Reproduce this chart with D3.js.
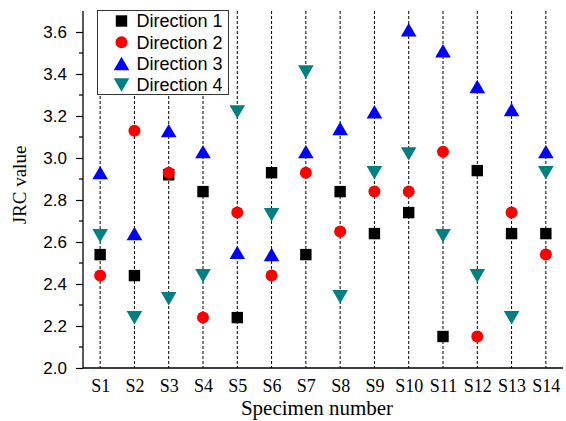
<!DOCTYPE html>
<html>
<head>
<meta charset="utf-8">
<script src="https://cdn.jsdelivr.net/npm/d3@7"></script>
<style>
  body { margin: 0; background: #fff; }
  svg { display: block; }
</style>
</head>
<body>
<div id="chart"></div>
<script>
const specimens = ["S1","S2","S3","S4","S5","S6","S7","S8","S9","S10","S11","S12","S13","S14"]
const dir1 = [2.54, 2.44, 2.92, 2.84, 2.24, 2.93, 2.54, 2.84, 2.64, 2.74, 2.15, 2.94, 2.64, 2.64]
const dir2 = [2.44, 3.13, 2.93, 2.24, 2.74, 2.44, 2.93, 2.65, 2.84, 2.84, 3.03, 2.15, 2.74, 2.54]
const dir3 = [2.93, 2.64, 3.13, 3.03, 2.55, 2.54, 3.03, 3.14, 3.22, 3.61, 3.51, 3.34, 3.23, 3.03]
const dir4 = [2.63, 2.24, 2.33, 2.44, 3.22, 2.73, 3.41, 2.34, 2.93, 3.02, 2.63, 2.44, 2.24, 2.93]
const seriesNames = ["Direction 1", "Direction 2", "Direction 3", "Direction 4"]
const yTicks = [2.0, 2.2, 2.4, 2.6, 2.8, 3.0, 3.2, 3.4, 3.6]
const yMinorTicks = [2.1, 2.3, 2.5, 2.7, 2.9, 3.1, 3.3, 3.5]

const width = 566, height = 421
const margin = {top: 11, right: 3, bottom: 53, left: 83}

const series = [
  {name: seriesNames[0], values: dir1, color: "#000000", shape: "square"},
  {name: seriesNames[1], values: dir2, color: "#ff0000", shape: "circle"},
  {name: seriesNames[2], values: dir3, color: "#0000ff", shape: "up"},
  {name: seriesNames[3], values: dir4, color: "#008080", shape: "down"}
]

const svg = d3.select("#chart").append("svg")
  .attr("width", width)
  .attr("height", height)

const x = d3.scalePoint()
  .domain(specimens)
  .range([margin.left, width - margin.right])
  .padding(0.5)

const y = d3.scaleLinear()
  .domain([2.0, 3.7])
  .range([height - margin.bottom, margin.top])

// marker path, centred on 0,0
function marker(shape) {
  if (shape === "square") return "M-5.7,-5.7H5.7V5.7H-5.7Z"
  if (shape === "circle") return d3.symbol(d3.symbolCircle, Math.PI * 6 * 6)()
  if (shape === "up") return "M0,-6.8L7.8,6.6L-7.8,6.6Z"
  return "M0,6.8L7.8,-6.6L-7.8,-6.6Z"
}

// dashed guide lines
svg.append("g")
  .selectAll("line")
  .data(specimens)
  .join("line")
  .attr("x1", d => x(d)).attr("x2", d => x(d))
  .attr("y1", y(3.7)).attr("y2", y(2.0))
  .attr("stroke", "#000")
  .attr("stroke-width", 1)
  .attr("stroke-dasharray", "3,2")

// y axis
const yAxis = svg.append("g")
  .attr("transform", `translate(${margin.left},0)`)
  .call(d3.axisLeft(y).tickValues(yTicks).tickFormat(d3.format(".1f")).tickSize(7).tickPadding(9))
yAxis.select(".domain").attr("d", `M0,${y(3.7)}V${y(2.0)}`).attr("stroke-width", 1.3)
yAxis.selectAll(".tick line").attr("stroke-width", 1.2)
yAxis.selectAll("text")
  .attr("font-family", "'Liberation Sans', Arial, sans-serif")
  .attr("font-size", 17)
  .attr("fill", "#000")

svg.append("g")
  .attr("transform", `translate(${margin.left},0)`)
  .selectAll("line")
  .data(yMinorTicks)
  .join("line")
  .attr("x1", -4).attr("x2", 0)
  .attr("y1", d => y(d)).attr("y2", d => y(d))
  .attr("stroke", "#000")
  .attr("stroke-width", 1.2)

// x axis
const xAxis = svg.append("g")
  .attr("transform", `translate(0,${y(2.0)})`)
  .call(d3.axisBottom(x).tickSize(0).tickPadding(11))
xAxis.select(".domain").attr("d", `M${margin.left},0H${width - margin.right}`).attr("stroke-width", 1.3)
xAxis.selectAll("text")
  .attr("font-family", "'Liberation Serif', 'Times New Roman', serif")
  .attr("font-size", 18)
  .attr("fill", "#000")

// points
series.forEach(s => {
  svg.append("g")
    .selectAll("path")
    .data(s.values)
    .join("path")
    .attr("d", marker(s.shape))
    .attr("transform", (d, i) => `translate(${x(specimens[i])},${y(d)})`)
    .attr("fill", s.color)
})

// legend
const legend = svg.append("g")
legend.append("rect")
  .attr("x", 97.5).attr("y", 10.5)
  .attr("width", 131).attr("height", 84)
  .attr("fill", "#fff")
  .attr("stroke", "#333")
  .attr("stroke-width", 1)

const rows = legend.selectAll("g.row")
  .data(series)
  .join("g")
  .attr("class", "row")
  .attr("transform", (d, i) => `translate(121.5,${21 + i * 21.3})`)
rows.append("path")
  .attr("d", d => marker(d.shape))
  .attr("fill", d => d.color)
rows.append("text")
  .attr("x", 15)
  .attr("dy", "0.36em")
  .attr("font-family", "'Liberation Sans', Arial, sans-serif")
  .attr("font-size", 18)
  .text(d => d.name)

// axis titles
svg.append("text")
  .attr("x", 317)
  .attr("y", 415)
  .attr("text-anchor", "middle")
  .attr("font-family", "'Liberation Serif', 'Times New Roman', serif")
  .attr("font-size", 21)
  .text("Specimen number")

svg.append("text")
  .attr("transform", "translate(26,185) rotate(-90)")
  .attr("text-anchor", "middle")
  .attr("font-family", "'Liberation Serif', 'Times New Roman', serif")
  .attr("font-size", 19)
  .text("JRC value")
</script>
</body>
</html>
